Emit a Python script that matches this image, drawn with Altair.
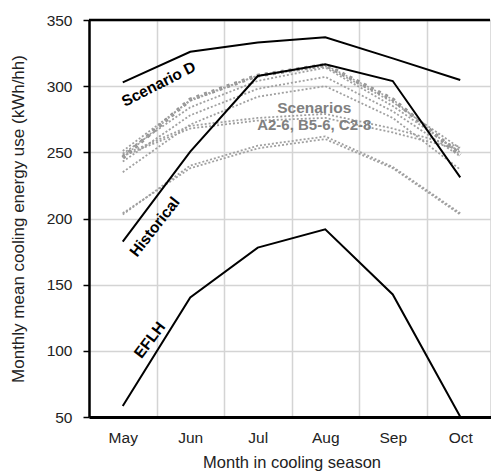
import math
import altair as alt
import pandas as pd

months = ["May", "Jun", "Jul", "Aug", "Sep", "Oct"]

# solid black series
scenario_d = [302.9, 326.0, 333.0, 337.0, 321.0, 304.7]
historical = [182.5, 250.5, 307.7, 316.5, 303.9, 231.1]
eflh = [58.3, 140.4, 178.0, 191.8, 142.6, 50.2]

# grey scenario series (A2-6, B5-6, C2-8)
scen_marked = [246, 290, 308, 316, 290, 248]
scen_1 = [251, 289, 308, 315, 288, 253]
scen_2 = [249, 284, 304, 314, 285, 250]
scen_3 = [243, 278, 298, 307, 281, 247]
scen_4 = [235, 271, 292, 300, 276, 237]
scen_5 = [248, 270, 276, 279, 268, 254]
scen_6 = [247, 268, 274, 276, 265, 252]
scen_7 = [203, 240, 255, 262, 239, 204]
scen_8 = [204, 238, 253, 260, 238, 203]

def long(series):
    rows = []
    for name, vals in series.items():
        for m, v in zip(months, vals):
            rows.append({"series": name, "month": m, "value": v})
    return pd.DataFrame(rows)

black_df = long({"Scenario D": scenario_d, "Historical": historical, "EFLH": eflh})
grey_df = long({"s1": scen_1, "s2": scen_2, "s3": scen_3, "s4": scen_4,
                "s5": scen_5, "s6": scen_6, "s7": scen_7, "s8": scen_8})
marked_df = long({"marked": scen_marked})

FONT = "Liberation Sans"

x_enc = alt.X("month:N", sort=months,
              scale=alt.Scale(domain=months, range=[0, 405], paddingInner=0, paddingOuter=0),
              axis=alt.Axis(title="Month in cooling season", tickBand="extent", ticks=False,
                            grid=True, gridColor="#d4d4d4", gridWidth=1.5,
                            domainColor="black", domainWidth=3, labelAngle=0,
                            labelFontSize=15.5, labelColor="#222", labelPadding=13,
                            titleFontSize=16.5, titleFontWeight="normal", titleColor="#222",
                            titlePadding=9, labelFont=FONT, titleFont=FONT))
y_enc = alt.Y("value:Q",
              scale=alt.Scale(domain=[50, 350], nice=False, zero=False),
              axis=alt.Axis(title="Monthly mean cooling energy use (kWh/hh)",
                            values=list(range(50, 351, 25)),
                            labelExpr="datum.value % 50 == 0 ? datum.label : ''",
                            grid=True, gridColor="#d4d4d4", gridWidth=1.5,
                            gridOpacity={"condition": {"test": "datum.value % 50 == 0", "value": 1}, "value": 0},
                            domainColor="black", domainWidth=2.5,
                            tickColor="black", tickWidth=1.5, tickSize=6,
                            labelFontSize=15.5, labelColor="#222", labelPadding=11,
                            titleFontSize=17, titleFontWeight="normal", titleColor="#222",
                            titlePadding=19, labelFont=FONT, titleFont=FONT))

grey = alt.Chart(grey_df).mark_line(color="#a0a0a0", strokeWidth=1.8, strokeDash=[2, 2]).encode(
    x=x_enc, y=y_enc, detail="series:N")

marked_thick = alt.Chart(marked_df).mark_line(color="#959595", strokeWidth=4, strokeDash=[3, 5]).encode(
    x="month:N", y="value:Q")
marked_thin = alt.Chart(marked_df).mark_line(color="#a0a0a0", strokeWidth=1.5, strokeDash=[2, 2]).encode(
    x="month:N", y="value:Q")

black = alt.Chart(black_df).mark_line(color="black", strokeWidth=2).encode(
    x="month:N", y="value:Q", detail="series:N")

top_border = alt.Chart(pd.DataFrame({"v": [350]})).mark_rule(color="black", strokeWidth=2.5).encode(
    y="v:Q")

def label(text, month, value, shift, angle, color="black", size=15.5):
    # shift is a horizontal screen offset; dx/dy act in the rotated text frame
    th = math.radians(angle)
    dx = shift * math.cos(th)
    dy = -shift * math.sin(th)
    return alt.Chart(pd.DataFrame({"t": [text], "month": [month], "value": [value]})).mark_text(
        angle=angle, dx=dx, dy=dy, fontWeight="bold", fontSize=size, font=FONT, color=color,
        align="center", baseline="middle").encode(x="month:N", y="value:Q", text="t:N")

labels = [
    label("Scenario D", "May", 301.6, 36, 333),
    label("Historical", "May", 193.6, 32, 308),
    label("EFLH", "May", 108.2, 27, 307),
    label("Scenarios", "Aug", 283.5, -11, 0, color="#808080", size=15.5),
    label("A2-6, B5-6, C2-8", "Aug", 270.7, -11, 0, color="#808080", size=15),
]

chart = alt.layer(grey, marked_thick, marked_thin, black, top_border, *labels).properties(
    width=401, height=397,
    autosize=alt.AutoSizeParams(type="none"),
    padding={"left": 89, "top": 20, "right": 1, "bottom": 56},
).configure_view(stroke=None).configure(background="white")

chart.save("out.html", embed_options={"renderer": "svg", "actions": False})
